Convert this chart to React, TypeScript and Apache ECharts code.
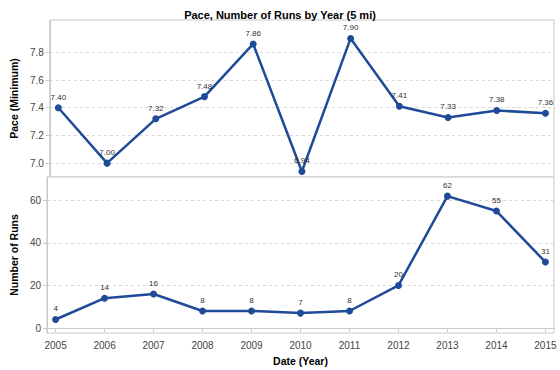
import React, { useEffect, useRef } from "react";
import * as echarts from "echarts";

const years = [2005, 2006, 2007, 2008, 2009, 2010, 2011, 2012, 2013, 2014, 2015];
const pace = [7.4, 7.0, 7.32, 7.48, 7.86, 6.94, 7.9, 7.41, 7.33, 7.38, 7.36];
const runs = [4, 14, 16, 8, 8, 7, 8, 20, 62, 55, 31];
const paceTicks = [7.0, 7.2, 7.4, 7.6, 7.8];
const runsTicks = [0, 20, 40, 60];

const FONT = "Liberation Sans, Arial, sans-serif";
const BLUE = "#1f4a98";
const BORDER = "#c8c8c8";

export default function App() {
  const ref = useRef<HTMLDivElement>(null);
  useEffect(() => {
    const chart = echarts.init(ref.current!, null, { renderer: "svg" });
    const labelStyle = { color: "#444", fontSize: 10, fontFamily: FONT };
    const splitLine = { show: true, lineStyle: { color: "#d8d8d8", type: [3, 3] as any } };
    chart.setOption({
      animation: false,
      title: {
        text: "Pace, Number of Runs by Year (5 mi)",
        left: "center",
        top: 4,
        textStyle: { fontSize: 11, fontWeight: "bold", color: "#000", fontFamily: FONT },
      },
      grid: [
        { left: 41, right: 6, top: 20, height: 157, show: true, borderColor: BORDER, borderWidth: 1, backgroundColor: "#fff" },
        { left: 41, right: 6, top: 177, height: 156, show: true, borderColor: BORDER, borderWidth: 1, backgroundColor: "#fff" },
      ],
      xAxis: [
        {
          type: "value", gridIndex: 0, min: 2004.825, max: 2015.175,
          axisLine: { show: false }, axisTick: { show: false }, axisLabel: { show: false }, splitLine: { show: false },
        },
        {
          type: "value", gridIndex: 1, min: 2004.825, max: 2015.175,
          name: "Date (Year)", nameLocation: "middle", nameGap: 22,
          nameTextStyle: { fontSize: 10.5, fontWeight: "bold", color: "#000", fontFamily: FONT },
          axisLine: { show: true, lineStyle: { color: BORDER } },
          axisTick: { show: true, length: 4, lineStyle: { color: BORDER }, customValues: years },
          axisLabel: { ...labelStyle, margin: 7, customValues: years, formatter: (v: number) => String(v) },
          splitLine: { show: false },
        },
      ],
      yAxis: [
        {
          type: "value", gridIndex: 0, min: 6.9, max: 8.033,
          name: "Pace (Minimum)", nameLocation: "middle", nameGap: 27,
          nameTextStyle: { fontSize: 10.5, fontWeight: "bold", color: "#000", fontFamily: FONT },
          axisLine: { show: true, lineStyle: { color: BORDER } },
          axisTick: { show: true, length: 4, lineStyle: { color: BORDER }, customValues: paceTicks },
          axisLabel: { ...labelStyle, margin: 6, customValues: paceTicks, formatter: (v: number) => v.toFixed(1) },
          splitLine,
        },
        {
          type: "value", gridIndex: 1, min: -2.35, max: 71,
          name: "Number of Runs", nameLocation: "middle", nameGap: 27,
          nameTextStyle: { fontSize: 10.5, fontWeight: "bold", color: "#000", fontFamily: FONT },
          axisLine: { show: true, lineStyle: { color: BORDER } },
          axisTick: { show: true, length: 4, lineStyle: { color: BORDER }, customValues: runsTicks },
          axisLabel: { ...labelStyle, margin: 6, customValues: runsTicks, formatter: (v: number) => String(v) },
          splitLine,
        },
      ],
      series: [
        {
          type: "line", xAxisIndex: 0, yAxisIndex: 0,
          data: years.map((y, i) => [y, pace[i]]),
          symbol: "circle", symbolSize: 7,
          lineStyle: { color: BLUE, width: 2.5 },
          itemStyle: { color: BLUE },
          label: { show: true, position: "top", distance: 3, fontSize: 8, color: "#333", fontFamily: FONT, formatter: (p: any) => p.value[1].toFixed(2) },
        },
        {
          type: "line", xAxisIndex: 1, yAxisIndex: 1,
          data: years.map((y, i) => [y, runs[i]]),
          symbol: "circle", symbolSize: 7,
          lineStyle: { color: BLUE, width: 2.5 },
          itemStyle: { color: BLUE },
          label: { show: true, position: "top", distance: 3, fontSize: 8, color: "#333", fontFamily: FONT, formatter: (p: any) => String(p.value[1]) },
        },
      ],
    });
    return () => chart.dispose();
  }, []);
  return <div ref={ref} style={{ width: 560, height: 370, position: "absolute", left: 0, top: 0 }} />;
}
